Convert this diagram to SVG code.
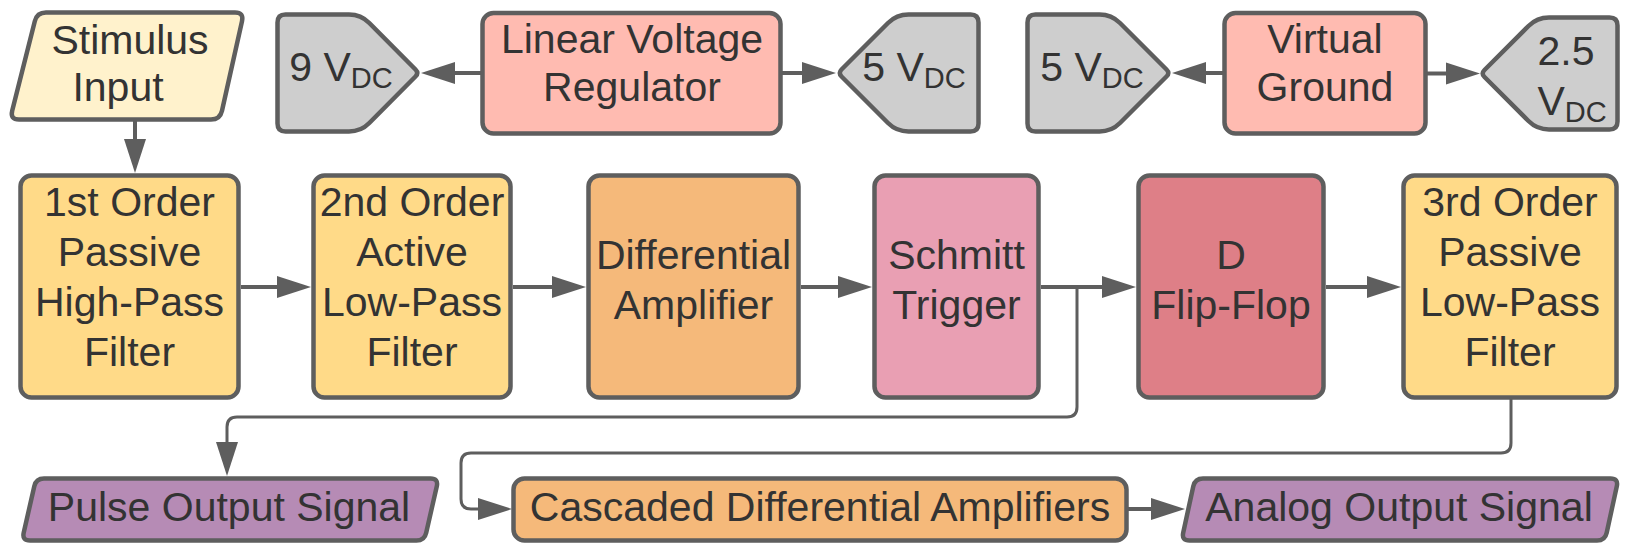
<svg xmlns="http://www.w3.org/2000/svg" width="1637" height="559" viewBox="0 0 1637 559">
<style>
.n{stroke:#5e5e5e;stroke-width:4.5;stroke-linejoin:round}
.t{font-family:"Liberation Sans",Arial,sans-serif;font-size:41px;fill:#333;text-anchor:middle}
.s{font-size:29px}
.c{fill:none;stroke:#5e5e5e;stroke-width:4}
.b{fill:none;stroke:#5e5e5e;stroke-width:3}
.h{fill:#5e5e5e}
</style>
<rect width="1637" height="559" fill="#fff"/>
<g id="connectors">
<path class="c" d="M135,120 V140"/><polygon class="h" points="135,173 124,139 146,139"/>
<path class="c" d="M482,73 H452"/><polygon class="h" points="421,73 455,62 455,84"/>
<path class="c" d="M781,73 H802"/><polygon class="h" points="836,73 802,62 802,84"/>
<path class="c" d="M1224,73 H1205"/><polygon class="h" points="1172,73 1206,62 1206,84"/>
<path class="c" d="M1426,73.5 H1446"/><polygon class="h" points="1480,73.5 1446,62.5 1446,84.5"/>
<path class="c" d="M241,287 H278"/><polygon class="h" points="311,287 277,276 277,298"/>
<path class="c" d="M513,287 H553"/><polygon class="h" points="586,287 552,276 552,298"/>
<path class="c" d="M801,287 H839"/><polygon class="h" points="872,287 838,276 838,298"/>
<path class="c" d="M1041,287 H1103"/><polygon class="h" points="1136,287 1102,276 1102,298"/>
<path class="c" d="M1326,287 H1368"/><polygon class="h" points="1401,287 1367,276 1367,298"/>
<path class="b" d="M1077,287 V407 Q1077,417 1067,417 H237 Q227,417 227,427 V443"/><polygon class="h" points="227,476 216,442 238,442"/>
<path class="b" d="M1511,399 V443 Q1511,453 1501,453 H471 Q461,453 461,463 V499 Q461,509 471,509 H482"/><polygon class="h" points="512,509 478,498 478,520"/>
<path class="c" d="M1128,509 H1151"/><polygon class="h" points="1185,509 1151,498 1151,520"/>
</g>
<g id="stimulus">
<path class="n" fill="#fff2cc" d="M46,12.5 H235 Q244,12.5 242,21.3 L222,110.7 Q220,119.5 211,119.5 H19 Q10,119.5 12.2,110.8 L34.8,21.2 Q37,12.5 46,12.5 Z"/>
<text class="t" x="130" y="54">Stimulus</text><text class="t" x="118" y="101">Input</text>
</g>
<g id="v9">
<path class="n" fill="#cecece" d="M285.5,14.5 H349 Q361,14.5 369.3,23 L415.5,69.5 Q419,73 415.5,76.5 L369.3,123 Q361,131.5 349,131.5 H285.5 Q277.5,131.5 277.5,123.5 V22.5 Q277.5,14.5 285.5,14.5 Z"/>
<text class="t" x="341" y="81">9 V<tspan class="s" dy="7">DC</tspan></text>
</g>
<g id="regulator">
<rect class="n" fill="#ffbbb1" x="482.5" y="13" width="298" height="120.5" rx="11"/>
<text class="t" x="632" y="53">Linear Voltage</text><text class="t" x="632" y="101">Regulator</text>
</g>
<g id="v5a">
<path class="n" fill="#cecece" d="M908.5,14.5 H970.5 Q978.5,14.5 978.5,22.5 V123.5 Q978.5,131.5 970.5,131.5 H908.5 Q896.5,131.5 888,123 L841.5,76.5 Q838,73 841.5,69.5 L888,23 Q896.5,14.5 908.5,14.5 Z"/>
<text class="t" x="914" y="81">5 V<tspan class="s" dy="7">DC</tspan></text>
</g>
<g id="v5b">
<path class="n" fill="#cecece" d="M1035.5,14.5 H1099.5 Q1111.5,14.5 1120,23 L1166.5,69.5 Q1170,73 1166.5,76.5 L1120,123 Q1111.5,131.5 1099.5,131.5 H1035.5 Q1027.5,131.5 1027.5,123.5 V22.5 Q1027.5,14.5 1035.5,14.5 Z"/>
<text class="t" x="1092" y="81">5 V<tspan class="s" dy="7">DC</tspan></text>
</g>
<g id="vground">
<rect class="n" fill="#ffbbb1" x="1224.5" y="13" width="201" height="120.5" rx="11"/>
<text class="t" x="1325" y="53">Virtual</text><text class="t" x="1325" y="101">Ground</text>
</g>
<g id="v25">
<path class="n" fill="#cecece" d="M1549,17.5 H1609.5 Q1617.5,17.5 1617.5,25.5 V121.5 Q1617.5,129.5 1609.5,129.5 H1549 Q1537,129.5 1528.5,121 L1484.5,77 Q1481,73.5 1484.5,70 L1528.5,26 Q1537,17.5 1549,17.5 Z"/>
<text class="t" x="1566" y="65">2.5</text>
<text class="t" x="1572" y="115">V<tspan class="s" dy="7">DC</tspan></text>
</g>
<g id="hpf1">
<rect class="n" fill="#ffda88" x="20.5" y="175.5" width="218" height="222" rx="11"/>
<text class="t" x="129.5" y="216">1st Order</text><text class="t" x="129.5" y="266">Passive</text><text class="t" x="129.5" y="316">High-Pass</text><text class="t" x="129.5" y="366">Filter</text>
</g>
<g id="lpf2">
<rect class="n" fill="#ffda88" x="313.5" y="175.5" width="197" height="222" rx="11"/>
<text class="t" x="412" y="216">2nd Order</text><text class="t" x="412" y="266">Active</text><text class="t" x="412" y="316">Low-Pass</text><text class="t" x="412" y="366">Filter</text>
</g>
<g id="diffamp">
<rect class="n" fill="#f5b97a" x="588.5" y="175.5" width="210" height="222" rx="11"/>
<text class="t" x="693.5" y="269">Differential</text><text class="t" x="693.5" y="319">Amplifier</text>
</g>
<g id="schmitt">
<rect class="n" fill="#e99fb3" x="874.5" y="175.5" width="164" height="222" rx="11"/>
<text class="t" x="956.5" y="269">Schmitt</text><text class="t" x="956.5" y="319">Trigger</text>
</g>
<g id="dff">
<rect class="n" fill="#de7f87" x="1138.5" y="175.5" width="185" height="222" rx="11"/>
<text class="t" x="1231" y="269">D</text><text class="t" x="1231" y="319">Flip-Flop</text>
</g>
<g id="lpf3">
<rect class="n" fill="#ffda88" x="1403.5" y="175.5" width="213" height="222" rx="11"/>
<text class="t" x="1510" y="216">3rd Order</text><text class="t" x="1510" y="266">Passive</text><text class="t" x="1510" y="316">Low-Pass</text><text class="t" x="1510" y="366">Filter</text>
</g>
<g id="pulse">
<path class="n" fill="#b68bb5" d="M44,478.5 H430.5 Q438.5,478.5 436.8,486.3 L426.2,532.7 Q424.5,540.5 416.5,540.5 H30 Q22,540.5 23.7,532.7 L34.3,486.3 Q36,478.5 44,478.5 Z"/>
<text class="t" x="229" y="521">Pulse Output Signal</text>
</g>
<g id="cascaded">
<rect class="n" fill="#f5b97a" x="513.5" y="478.5" width="613" height="62" rx="11"/>
<text class="t" x="820" y="521">Cascaded Differential Amplifiers</text>
</g>
<g id="analog">
<path class="n" fill="#b68bb5" d="M1203,478.5 H1610.5 Q1618.5,478.5 1616.8,486.3 L1606.7,532.7 Q1605,540.5 1597,540.5 H1189.5 Q1181.5,540.5 1183.2,532.7 L1193.3,486.3 Q1195,478.5 1203,478.5 Z"/>
<text class="t" x="1399" y="521">Analog Output Signal</text>
</g>
</svg>
